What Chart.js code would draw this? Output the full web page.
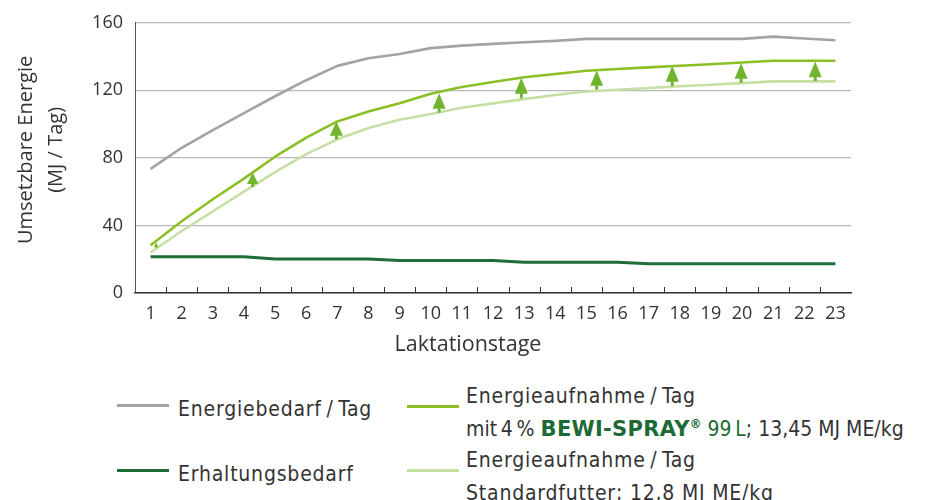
<!DOCTYPE html>
<html>
<head>
<meta charset="utf-8">
<script src="https://cdn.jsdelivr.net/npm/chart.js@4.4.0/dist/chart.umd.min.js"></script>
<style>
    html, body { margin: 0; padding: 0; background: #fff; }
    #wrap { position: relative; width: 926px; height: 500px; overflow: hidden; }
    #chartBox { position: absolute; left: 0; top: 0; width: 926px; height: 365px; }
    .swatch { position: absolute; width: 52px; height: 3px; }
    .txt {
        position: absolute;
        font-family: "DejaVu Sans Condensed", "DejaVu Sans", sans-serif;
        font-stretch: condensed;
        font-size: 21px;
        line-height: 24px;
        letter-spacing: 0.8px;
        color: #333;
        white-space: nowrap;
    }
    .tight { letter-spacing: 0; }
    .brand {
        font-family: "DejaVu Sans", sans-serif;
        font-stretch: normal;
        font-weight: bold;
        color: #1d6a36;
        letter-spacing: 0.3px;
    }
    .green { color: #1d6a36; }
    .reg { font-size: 13px; position: relative; top: -8px; font-weight: bold; color: #1d6a36; }
</style>
</head>
<body>
<div id="wrap">
    <div id="chartBox"><canvas id="energyChart"></canvas></div>

    <div class="swatch" style="left:117px;top:404px;background:#a3a3a3"></div>
    <div class="txt" style="left:178px;top:397px">Energiebedarf&thinsp;/&thinsp;Tag</div>

    <div class="swatch" style="left:407px;top:405px;background:#8cbf26"></div>
    <div class="txt" style="left:466px;top:384px">Energieaufnahme&thinsp;/&thinsp;Tag</div>
    <div class="txt tight" style="left:466px;top:417px">mit&thinsp;4&thinsp;% <span class="brand">BEWI-SPRAY</span><span class="reg">®</span> <span class="green">99&thinsp;L</span>; 13,45 MJ ME/kg</div>

    <div class="swatch" style="left:117px;top:469px;background:#1f6e3a"></div>
    <div class="txt" style="left:178px;top:462px">Erhaltungsbedarf</div>

    <div class="swatch" style="left:407px;top:469px;background:#c6e0a4"></div>
    <div class="txt" style="left:466px;top:448px">Energieaufnahme&thinsp;/&thinsp;Tag</div>
    <div class="txt" style="left:466px;top:481px">Standardfutter; 12,8 MJ ME/kg</div>
</div>

<script>
const days = ['1', '2', '3', '4', '5', '6', '7', '8', '9', '10', '11', '12',
    '13', '14', '15', '16', '17', '18', '19', '20', '21', '22', '23'];

// MJ / Tag
const energyDemand = [73.5, 86, 96.5, 106.5, 116.5, 126, 134.5, 139, 141.5, 145, 146.5, 147.5,
    148.5, 149.3, 150.5, 150.5, 150.5, 150.5, 150.5, 150.5, 151.8, 150.7, 149.7];
const maintenance = [21.5, 21.5, 21.5, 21.5, 20.2, 20.2, 20.2, 20.2, 19.2, 19.2, 19.2, 19.2,
    18.2, 18.2, 18.2, 18.2, 17.3, 17.3, 17.3, 17.3, 17.3, 17.3, 17.3];
const intakeBewi = [28.3, 42.5, 55.5, 67.7, 80.7, 92, 101.6, 107.5, 112.3, 118, 122, 124.9,
    127.8, 129.7, 131.6, 132.6, 133.6, 134.6, 135.5, 136.5, 137.5, 137.5, 137.5];
const intakeStandard = [24, 36.7, 48.3, 60, 71.6, 82.2, 91, 97.7, 102.6, 106, 109.7, 112.3,
    114.8, 117.2, 119.3, 120.4, 121.4, 122.4, 123.3, 124.3, 125.3, 125.3, 125.3];

// arrows between the two intake lines (day position, from, to)
const arrowDays = [1.18, 4.28, 6.97, 10.27, 12.91, 15.33, 17.76, 19.97, 22.35];
const arrowFrom = [26.9, 62.8, 91, 106.8, 115.2, 120.4, 122.6, 124.5, 125.5];
const arrowTo = [29.9, 71.2, 101.6, 118.3, 127.4, 131.7, 134.6, 136, 137.1];

const yTicks = [0, 40, 80, 120, 160];
const yTitle = ['Umsetzbare Energie', '(MJ / Tag)'];
const xTitle = 'Laktationstage';

const tickFont = { family: '"Open Sans", sans-serif', size: 18 };

// small ticks between the day labels, pointing up into the plot
const dayTicks = {
    id: 'dayTicks',
    afterDraw(chart) {
        const x = chart.scales.x;
        const bottom = chart.chartArea.bottom;
        const ctx = chart.ctx;
        ctx.save();
        ctx.strokeStyle = '#333';
        ctx.lineWidth = 1;
        for (let i = 1; i < days.length; i++) {
            const px = Math.round(x.getPixelForValue(i - 0.5)) + 0.5;
            ctx.beginPath();
            ctx.moveTo(px, bottom);
            ctx.lineTo(px, bottom - 6);
            ctx.stroke();
        }
        ctx.restore();
    }
};

const arrows = {
    id: 'arrows',
    afterDatasetsDraw(chart) {
        const { x, y } = chart.scales;
        const ctx = chart.ctx;
        ctx.save();
        ctx.fillStyle = '#70b52d';
        arrowDays.forEach((d, i) => {
            const px = x.getPixelForValue(d - 1);
            const top = y.getPixelForValue(arrowTo[i]);
            const base = y.getPixelForValue(arrowFrom[i]);
            const len = base - top;
            const h = Math.min(16, len * 0.8);
            const w = Math.min(13, h);
            ctx.beginPath();
            ctx.moveTo(px, top);
            ctx.lineTo(px + w / 2, top + h);
            ctx.lineTo(px - w / 2, top + h);
            ctx.closePath();
            ctx.fill();
            if (base > top + h) ctx.fillRect(px - 1.5, top + h - 0.5, 3, base - top - h + 0.5);
        });
        ctx.restore();
    }
};

const axisTitles = {
    id: 'axisTitles',
    afterDraw(chart) {
        const { ctx, chartArea: a } = chart;
        ctx.save();
        ctx.fillStyle = '#333';
        ctx.textAlign = 'center';
        ctx.textBaseline = 'middle';
        ctx.font = '21.5px "Open Sans", sans-serif';
        ctx.fillText(xTitle, a.left + 333, a.bottom + 52);
        ctx.translate(26, (a.top + a.bottom) / 2 - 8);
        ctx.rotate(-Math.PI / 2);
        ctx.font = '20px "Open Sans", sans-serif';
        ctx.fillText(yTitle[0], 0, 0);
        ctx.fillText(yTitle[1], 0, 30);
        ctx.restore();
    }
};

const lineStyle = {
    pointRadius: 0,
    pointHoverRadius: 0,
    tension: 0,
    fill: false,
    borderJoinStyle: 'round',
    borderCapStyle: 'butt'
};

document.addEventListener('DOMContentLoaded', () => {
    const ctx = document.getElementById('energyChart').getContext('2d');
    new Chart(ctx, {
        type: 'line',
        data: {
            labels: days,
            datasets: [
                { label: 'Energieaufnahme/Tag mit 4 % BEWI-SPRAY 99 L', data: intakeBewi,
                  borderColor: '#8cbf26', borderWidth: 2.6, ...lineStyle },
                { label: 'Energieaufnahme/Tag Standardfutter', data: intakeStandard,
                  borderColor: '#c6e0a4', borderWidth: 2.6, ...lineStyle },
                { label: 'Erhaltungsbedarf', data: maintenance,
                  borderColor: '#1f6e3a', borderWidth: 3, ...lineStyle },
                { label: 'Energiebedarf/Tag', data: energyDemand,
                  borderColor: '#a3a3a3', borderWidth: 2.6, ...lineStyle }
            ]
        },
        options: {
            responsive: true,
            maintainAspectRatio: false,
            animation: false,
            layout: { padding: { top: 18, right: 75, left: 0, bottom: 0 } },
            plugins: {
                legend: { display: false },
                tooltip: { enabled: false },
                title: { display: false }
            },
            scales: {
                x: {
                    offset: true,
                    afterFit(scale) { scale.height = 72; },
                    grid: { display: false },
                    border: { display: true, color: '#333', width: 1.5 },
                    ticks: {
                        color: '#333',
                        font: tickFont,
                        padding: 2,
                        maxRotation: 0,
                        autoSkip: false
                    }
                },
                y: {
                    min: 0,
                    max: 160,
                    afterFit(scale) { scale.width = 135; },
                    afterBuildTicks(scale) { scale.ticks = yTicks.map(v => ({ value: v })); },
                    grid: { color: '#b9b9b9', lineWidth: 1.2, drawTicks: false },
                    border: { display: true, color: '#555', width: 1 },
                    ticks: {
                        color: '#333',
                        font: tickFont,
                        padding: 12
                    }
                }
            }
        },
        plugins: [dayTicks, arrows, axisTitles]
    });
});
</script>
</body>
</html>
